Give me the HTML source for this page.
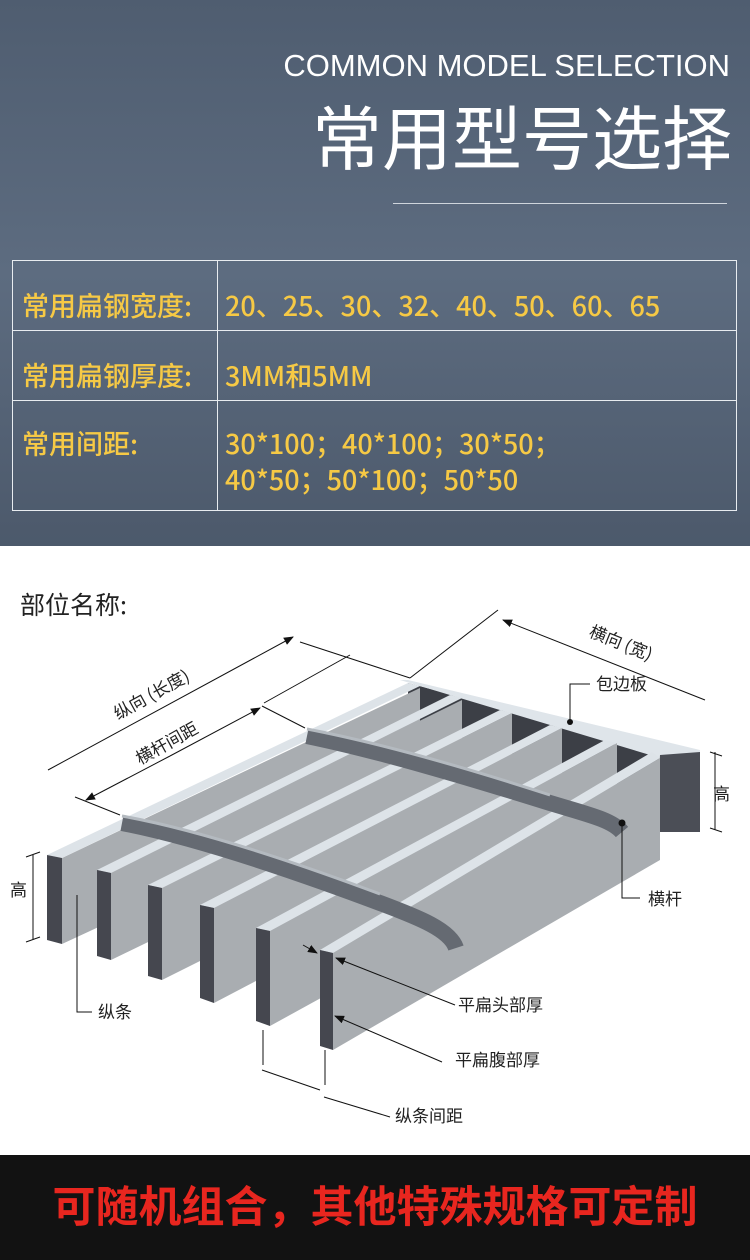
<!DOCTYPE html>
<html><head><meta charset="utf-8"><style>
html,body{margin:0;padding:0}
body{width:750px;height:1260px;position:relative;overflow:hidden;font-family:"Liberation Sans","Noto Sans CJK SC",sans-serif}
.hdr{position:absolute;left:0;top:0;width:750px;height:546px;background:linear-gradient(180deg,#4f5d70 0%,#5d6c80 50%,#4c596b 100%)}
.t{position:absolute;white-space:nowrap;line-height:1}
.gold{color:#f6c945;font-size:27px;font-family:"Noto Sans CJK SC",sans-serif;font-weight:500}
.foot{position:absolute;left:0;top:1155px;width:750px;height:105px;background:#121212}
</style></head><body>
<div class="hdr">
<div class="t" style="right:20px;top:50px;color:#fff;font-size:31px">COMMON MODEL SELECTION</div>
<div class="t" style="right:18px;top:100px;color:#fff;font-size:70px;font-family:'Noto Sans CJK SC',sans-serif">常用型号选择</div>
<div style="position:absolute;left:393px;top:203px;width:334px;height:1px;background:#cfd5dc"></div>
<div style="position:absolute;left:12px;top:260px;width:725px;height:251px;border:1px solid #e8ecf0;box-sizing:border-box"></div>
<div style="position:absolute;left:12px;top:330px;width:725px;height:1px;background:#e8ecf0"></div>
<div style="position:absolute;left:12px;top:400px;width:725px;height:1px;background:#e8ecf0"></div>
<div style="position:absolute;left:217px;top:260px;width:1px;height:251px;background:#e8ecf0"></div>
<div class="t gold" style="left:22px;top:291px">常用扁钢宽度:</div>
<div class="t gold" style="left:225px;top:291px">20、25、30、32、40、50、60、65</div>
<div class="t gold" style="left:22px;top:361px">常用扁钢厚度:</div>
<div class="t gold" style="left:225px;top:361px">3MM和5MM</div>
<div class="t gold" style="left:22px;top:429px">常用间距:</div>
<div class="t gold" style="left:225px;top:429px">30*100；40*100；30*50；</div>
<div class="t gold" style="left:225px;top:465px">40*50；50*100；50*50</div>
</div>
<div class="t" style="left:20px;top:592px;font-size:25px;color:#222;font-family:'Noto Sans CJK SC',sans-serif">部位名称:</div>
<svg style="position:absolute;left:0;top:0" width="750" height="1260" viewBox="0 0 750 1260">
<defs><marker id="a" markerWidth="10" markerHeight="8" refX="9" refY="4" orient="auto"><path d="M0,0L10,4L0,8z" fill="#111"/></marker></defs>
<polygon points="408,683 660,750 660,832 408,765" fill="#3c3f46"/>
<polygon points="400,680 408,680 700,750 700,758 660,758" fill="#dfe5ea"/>
<polygon points="660,755 700,752 700,832 660,832" fill="#4b4e56"/>
<polygon points="660,755 660,832 650,832" fill="#a8acb0"/>
<g>
<polygon points="62,858 420,688 420,778 62,944" fill="#a9adb1"/>
<polygon points="47,855 408,683 420,686 62,858" fill="#dde3e8"/>
<polygon points="47,855 62,858 62,944 47,940" fill="#45474f"/>
<polygon points="111,873 462,700 462,790 111,960" fill="#a9adb1"/>
<polygon points="97,870 450,695 462,698 111,873" fill="#dde3e8"/>
<polygon points="97,870 111,873 111,960 97,956" fill="#45474f"/>
<polygon points="162,888 512,713 512,805 162,980" fill="#a9adb1"/>
<polygon points="148,885 500,710 512,713 162,888" fill="#dde3e8"/>
<polygon points="148,885 162,888 162,980 148,976" fill="#45474f"/>
<polygon points="214,908 562,728 562,820 214,1003" fill="#a9adb1"/>
<polygon points="200,905 550,725 562,728 214,908" fill="#dde3e8"/>
<polygon points="200,905 214,908 214,1003 200,998" fill="#45474f"/>
<polygon points="270,931 617,743 617,835 270,1026" fill="#a9adb1"/>
<polygon points="256,928 605,740 617,743 270,931" fill="#dde3e8"/>
<polygon points="256,928 270,931 270,1026 256,1021" fill="#45474f"/>
<polygon points="333,953 660,758 660,860 333,1050" fill="#a9adb1"/>
<polygon points="320,950 652,752 660,758 333,953" fill="#dde3e8"/>
<polygon points="320,950 333,953 333,1050 320,1046" fill="#45474f"/>
</g>
<path d="M122,823 C200,838 300,873 380,903 C420,918 450,930 456,948" stroke="#656a72" stroke-width="16" fill="none"/>
<path d="M122,816 C200,830 300,864 380,894" stroke="#b4bac0" stroke-width="3" fill="none"/>
<path d="M307,736 C380,751 470,778 550,803 C590,815 612,820 622,832" stroke="#656a72" stroke-width="16" fill="none"/>
<path d="M307,729 C380,743 470,769 550,795" stroke="#b4bac0" stroke-width="3" fill="none"/>
<g stroke="#111" stroke-width="1" fill="none">
<line x1="48" y1="770" x2="293" y2="637" marker-end="url(#a)"/>
<line x1="300" y1="642" x2="410" y2="678"/>
<line x1="410" y1="678" x2="498" y2="610"/>
<line x1="705" y1="700" x2="503" y2="620" marker-end="url(#a)"/>
<line x1="75" y1="797" x2="120" y2="815"/>
<line x1="170" y1="756" x2="86" y2="800" marker-end="url(#a)"/>
<line x1="170" y1="756" x2="260" y2="708" marker-end="url(#a)"/>
<line x1="262" y1="706" x2="305" y2="728"/>
<line x1="264" y1="703" x2="350" y2="655"/>
<polyline points="570,722 570,684 590,684"/>
<line x1="715" y1="752" x2="715" y2="830"/><line x1="710" y1="752" x2="722" y2="756"/><line x1="710" y1="828" x2="722" y2="832"/>
<line x1="33" y1="855" x2="33" y2="940"/><line x1="26" y1="857" x2="40" y2="852"/><line x1="26" y1="942" x2="40" y2="937"/>
<polyline points="622,823 622,898 640,898"/>
<polyline points="77,895 77,1012 92,1012"/>
<line x1="455" y1="1005" x2="336" y2="958" marker-end="url(#a)"/>
<line x1="303" y1="945" x2="317" y2="953" marker-end="url(#a)"/>
<line x1="442" y1="1062" x2="335" y2="1016" marker-end="url(#a)"/>
<line x1="263" y1="1030" x2="263" y2="1065"/>
<line x1="325" y1="1050" x2="325" y2="1085"/>
<line x1="262" y1="1070" x2="320" y2="1090"/>
<line x1="324" y1="1097" x2="390" y2="1117"/>
</g>
<circle cx="570" cy="722" r="3" fill="#111"/>
<circle cx="622" cy="823" r="3.5" fill="#111"/>
<g font-family="Noto Sans CJK SC,sans-serif" font-size="17" fill="#222">
<text x="0" y="0" transform="translate(118,720) rotate(-29)">纵向 (长度)</text>
<text x="0" y="0" transform="translate(140,765) rotate(-29)">横杆间距</text>
<text x="0" y="0" transform="translate(588,636) rotate(22)">横向 (宽)</text>
<text x="596" y="690">包边板</text>
<text x="713" y="800">高</text>
<text x="10" y="896">高</text>
<text x="648" y="905">横杆</text>
<text x="98" y="1018">纵条</text>
<text x="458" y="1011">平扁头部厚</text>
<text x="455" y="1066">平扁腹部厚</text>
<text x="395" y="1122">纵条间距</text>
</g>
</svg>
<div class="foot"></div>
<div class="t" style="left:0;width:750px;text-align:center;top:1183px;color:#e8261f;font-size:43px;font-weight:bold;font-family:'Noto Sans CJK SC',sans-serif">可随机组合，其他特殊规格可定制</div>
</body></html>
